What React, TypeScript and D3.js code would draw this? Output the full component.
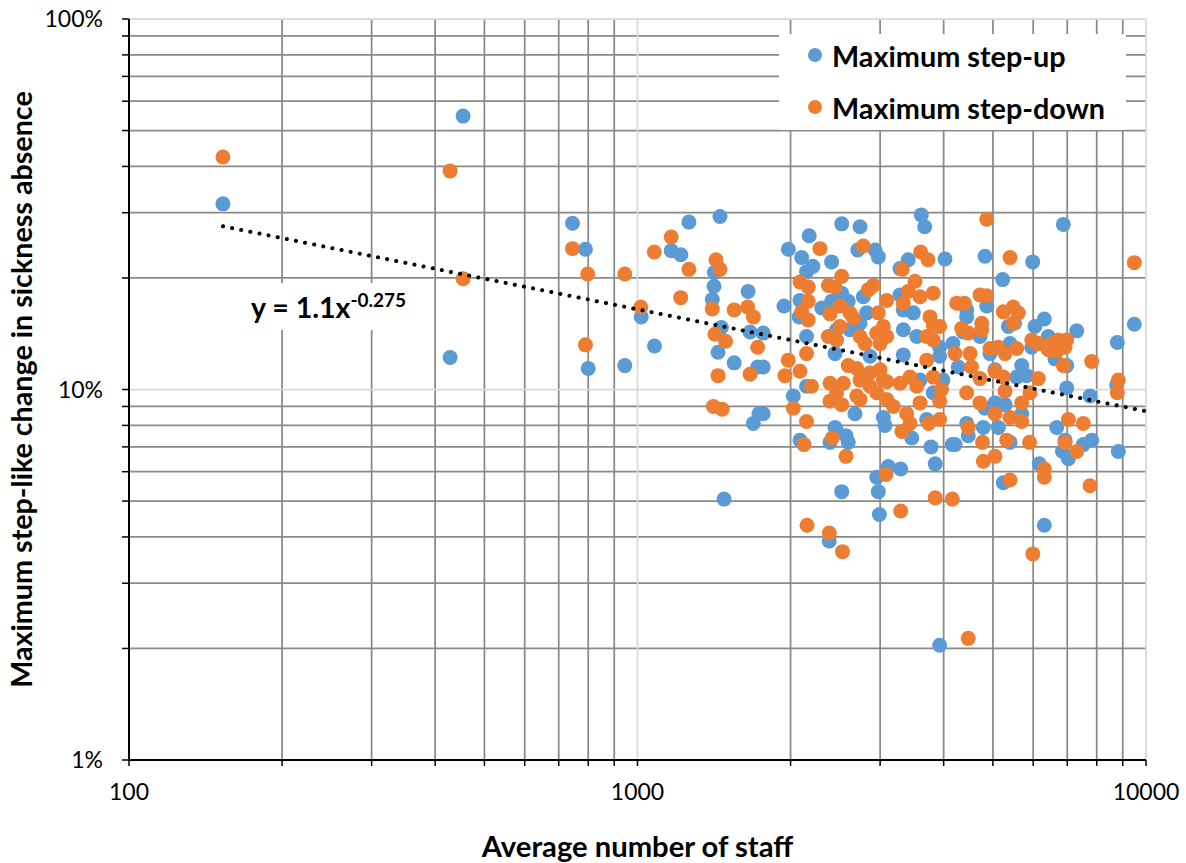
import { useEffect, useRef } from 'react';
import * as d3 from 'd3';

// [average number of staff, maximum step-like change in %]
const stepUp: [number, number][] = [
  [153, 31.7], [454, 54.7], [428, 12.2],
  [745, 28.1], [790, 23.9], [800, 11.4], [944, 11.6], [1017, 15.7], [1080, 13.1], [1165, 23.7], [1217, 23.1],
  [1262, 28.3], [1453, 29.3], [1416, 20.7], [1414, 19.0], [1403, 17.5], [1650, 18.4], [1462, 14.7], [1440, 12.6],
  [1549, 11.8], [1665, 14.3], [1723, 11.5], [1690, 8.1], [1733, 8.6], [1480, 5.06],
  [2176, 26.0], [1980, 23.9], [2103, 22.7], [2213, 21.5], [2150, 20.8], [2408, 22.1], [2521, 28.0], [2739, 27.5],
  [2711, 23.8], [2932, 23.8], [2976, 22.8], [3615, 29.6], [3671, 27.5], [3407, 22.4], [3283, 21.2], [4024, 22.5],
  [1941, 16.8], [2087, 17.4], [2080, 15.7], [2303, 16.6], [2408, 17.3], [2521, 18.2], [2597, 17.3], [2780, 17.8],
  [2823, 16.1], [2739, 15.1], [2616, 14.5], [2463, 14.5], [2150, 13.9], [3283, 18.0], [3332, 16.4], [3487, 16.1],
  [3332, 14.5], [3541, 13.9], [3928, 13.0], [3928, 12.3], [3332, 12.4], [1767, 14.2], [1767, 11.5], [2446, 12.5],
  [2150, 10.2], [2025, 9.6], [1767, 8.6], [2677, 8.6], [3044, 8.4], [2446, 7.9], [3704, 8.3], [3987, 10.6],
  [3816, 9.8], [3594, 10.6], [4171, 13.3], [2866, 12.3],
  [6877, 27.9], [4824, 22.9], [5986, 22.1], [5226, 19.8], [4861, 16.8], [4439, 16.4], [4439, 15.7], [5361, 14.8],
  [5515, 15.1], [6048, 14.8], [6309, 15.5], [7307, 14.4], [6424, 13.9], [4716, 13.9], [4372, 14.3], [4934, 12.5],
  [5402, 13.3], [5961, 13.0], [6623, 12.1], [6983, 11.6], [4274, 11.5], [5696, 11.6], [5568, 10.8], [5825, 10.9],
  [5047, 11.3], [6983, 10.1], [7760, 9.6], [8782, 13.4], [9484, 15.0], [8757, 10.3], [5047, 9.2], [4824, 8.9],
  [5281, 9.1], [5696, 8.6], [4439, 8.1], [4787, 7.9], [5124, 7.9], [6674, 7.9],
  [2457, 7.8], [2571, 7.5], [2597, 7.2], [2391, 7.2], [2087, 7.3], [3067, 8.0], [3462, 7.4], [3778, 7.0],
  [3850, 6.3], [4160, 7.1], [3113, 6.2], [3293, 6.1], [2954, 5.8], [2976, 5.3], [2521, 5.3], [2990, 4.6],
  [2383, 3.9], [3928, 2.04],
  [4211, 7.1], [4471, 7.5], [5402, 7.2], [6930, 7.3], [6850, 6.8], [7036, 6.5], [7529, 7.1], [7820, 7.3],
  [8822, 6.8], [6167, 6.3], [5241, 5.6], [6309, 4.3],
];

const stepDown: [number, number][] = [
  [153, 42.4], [428, 38.9], [454, 19.9],
  [745, 24.0], [798, 20.5], [944, 20.5], [790, 13.2], [1015, 16.7], [1079, 23.5], [1165, 25.8], [1262, 21.1],
  [1216, 17.7], [1427, 22.4], [1453, 21.1], [1403, 16.5], [1549, 16.4], [1647, 16.7], [1690, 15.7], [1420, 14.1],
  [1490, 13.5], [1440, 10.9], [1665, 11.0], [1723, 13.0], [1410, 9.0], [1467, 8.85],
  [2285, 24.0], [2780, 24.4], [3605, 23.5], [3726, 22.4], [3316, 21.1], [2521, 20.2], [2087, 19.5], [2167, 18.9],
  [2373, 19.1], [2446, 18.9], [2910, 19.1], [2845, 18.6], [3513, 19.6], [3407, 18.4], [3594, 17.8], [3816, 18.2],
  [3091, 17.4], [3332, 17.1], [2167, 17.3], [2103, 16.2], [2167, 15.4], [2502, 16.8], [2391, 16.0], [2616, 16.1],
  [2659, 15.6], [2502, 14.8], [2976, 16.1], [3044, 14.8], [2954, 14.2], [3091, 13.9], [3760, 15.7], [3816, 14.9],
  [3928, 14.8], [3704, 13.9], [3816, 13.6], [4243, 17.1], [2373, 13.9], [2463, 13.6], [2739, 13.9], [2801, 13.3],
  [2999, 13.3], [2150, 12.5], [1979, 12.0], [2087, 11.2], [1950, 10.9], [2597, 11.6], [2699, 11.4], [2866, 11.1],
  [2999, 11.3], [3044, 10.6], [2739, 10.6], [2866, 10.2], [2954, 9.8], [3091, 9.4], [3185, 9.0], [3091, 10.5],
  [3283, 10.4], [3434, 10.8], [3541, 10.2], [3704, 12.0], [3816, 10.8], [3962, 10.0], [3928, 9.3], [2391, 10.4],
  [2540, 10.4], [2463, 9.8], [2391, 9.3], [2521, 9.1], [2699, 9.6], [2739, 9.4], [2199, 10.2], [2025, 8.9],
  [2150, 8.2], [3383, 8.6], [3434, 8.1], [3594, 9.2], [3928, 8.3], [3738, 8.1], [4211, 12.5],
  [4861, 28.8], [5402, 22.7], [9484, 22.0], [4392, 17.1], [4716, 18.0], [4860, 17.9], [5241, 16.2], [5482, 16.7],
  [5608, 16.1], [5482, 15.1], [4340, 14.6], [4471, 14.2], [4752, 15.1], [4752, 14.5], [5961, 13.6], [6140, 13.3],
  [6536, 13.3], [6723, 13.6], [6983, 13.6], [6930, 13.0], [6424, 12.8], [6674, 12.7], [4934, 12.9], [5124, 13.0],
  [5281, 12.5], [5568, 12.9], [4507, 12.5], [6877, 11.6], [7820, 11.9], [4538, 11.5], [5047, 11.2], [5241, 10.8],
  [4716, 10.7], [5281, 9.9], [6140, 10.7], [5913, 9.8], [8822, 10.6], [8782, 9.8], [4439, 9.8], [4716, 9.2],
  [5696, 9.2], [5047, 8.6], [5402, 8.4], [5696, 8.2], [7036, 8.3], [7529, 8.1], [4471, 7.9],
  [2125, 7.1], [2415, 7.4], [2571, 6.6], [3081, 5.9], [3310, 7.7], [3850, 5.1], [4160, 5.06], [3293, 4.7],
  [2155, 4.3], [2383, 4.1], [2530, 3.65],
  [4770, 7.2], [5321, 7.3], [5902, 7.2], [4787, 6.4], [5047, 6.6], [6930, 7.2], [7307, 6.8], [6309, 6.1],
  [6309, 5.8], [5402, 5.7], [7760, 5.5], [5990, 3.6], [4471, 2.13],
];

const xMajor = [100, 1000, 10000];
const xMinor = [200, 300, 400, 500, 600, 700, 800, 900, 2000, 3000, 4000, 5000, 6000, 7000, 8000, 9000];
const yMajor = [1, 10, 100];
const yMinor = [2, 3, 4, 5, 6, 7, 8, 9, 20, 30, 40, 50, 60, 70, 80, 90];

// trendline shown in the chart: y = 1.1 x^-0.275 (as fraction)
const trendA = 1.1;
const trendB = -0.275;
const trendRange = [153, 10000];

const seriesNames = ['Maximum step-up', 'Maximum step-down'];
const seriesColors = ['#5B9BD5', '#ED7D31'];

const W = 1186;
const H = 863;
const FONT = 'Lato, "Open Sans", sans-serif';

const App = () => {
  const svgRef = useRef<SVGSVGElement>(null);

  useEffect(() => {
    const svg = d3.select(svgRef.current);
    svg.selectAll('*').remove();

    const left = 129, right = 1146, top = 19, bottom = 760;
    const x = d3.scaleLog().domain([100, 10000]).range([left, right]);
    const y = d3.scaleLog().domain([1, 100]).range([bottom, top]);

    const grid = svg.append('g');
    grid.selectAll('.vmin').data(xMinor).enter().append('line')
      .attr('x1', d => x(d)).attr('x2', d => x(d)).attr('y1', top).attr('y2', bottom)
      .attr('stroke', '#898989').attr('stroke-width', 1.75);
    grid.selectAll('.hmin').data(yMinor).enter().append('line')
      .attr('y1', d => y(d)).attr('y2', d => y(d)).attr('x1', left).attr('x2', right)
      .attr('stroke', '#898989').attr('stroke-width', 1.75);
    grid.selectAll('.vmaj').data(xMajor).enter().append('line')
      .attr('x1', d => x(d)).attr('x2', d => x(d)).attr('y1', top).attr('y2', bottom)
      .attr('stroke', '#d9d9d9').attr('stroke-width', 1.75);
    grid.selectAll('.hmaj').data(yMajor).enter().append('line')
      .attr('y1', d => y(d)).attr('y2', d => y(d)).attr('x1', left).attr('x2', right)
      .attr('stroke', '#d9d9d9').attr('stroke-width', 1.75);

    // axes
    const allX = xMajor.concat(xMinor);
    const allY = yMajor.concat(yMinor);
    svg.append('g').selectAll('line').data(allX).enter().append('line')
      .attr('x1', d => x(d)).attr('x2', d => x(d)).attr('y1', bottom).attr('y2', bottom + 6)
      .attr('stroke', '#000').attr('stroke-width', 1.5);
    svg.append('g').selectAll('line').data(allY).enter().append('line')
      .attr('x1', left - 7).attr('x2', left).attr('y1', d => y(d)).attr('y2', d => y(d))
      .attr('stroke', '#000').attr('stroke-width', 1.5);
    svg.append('line').attr('x1', left).attr('x2', left).attr('y1', top).attr('y2', bottom)
      .attr('stroke', '#000').attr('stroke-width', 2);
    svg.append('line').attr('x1', left).attr('x2', right).attr('y1', bottom).attr('y2', bottom)
      .attr('stroke', '#000').attr('stroke-width', 2);

    svg.append('g').selectAll('text').data(xMajor).enter().append('text')
      .attr('x', d => x(d)).attr('y', 800).attr('text-anchor', 'middle')
      .attr('font-family', FONT).attr('font-size', 23).text(d => String(d));
    svg.append('g').selectAll('text').data(yMajor).enter().append('text')
      .attr('x', 103).attr('y', d => y(d)).attr('dy', '0.35em').attr('text-anchor', 'end')
      .attr('font-family', FONT).attr('font-size', 23).text(d => d + '%');

    // points
    [stepUp, stepDown].forEach((series, i) => {
      svg.append('g').selectAll('circle').data(series).enter().append('circle')
        .attr('cx', d => x(d[0])).attr('cy', d => y(d[1])).attr('r', 7.5)
        .attr('fill', seriesColors[i]);
    });

    // trendline
    const trendPts = d3.range(0, 101).map(k => {
      const v = trendRange[0] * Math.pow(trendRange[1] / trendRange[0], k / 100);
      return [v, trendA * Math.pow(v, trendB) * 100] as [number, number];
    });
    svg.append('path')
      .attr('d', d3.line<[number, number]>().x(d => x(d[0])).y(d => y(d[1]))(trendPts))
      .attr('fill', 'none').attr('stroke', '#000').attr('stroke-width', 4)
      .attr('stroke-linecap', 'round').attr('stroke-dasharray', '0.1 9.2');

    // trendline label
    svg.append('rect').attr('x', 243).attr('y', 283).attr('width', 170).attr('height', 47).attr('fill', '#fff');
    const eq = svg.append('text').attr('x', 251).attr('y', 318)
      .attr('font-family', FONT).attr('font-weight', 'bold').attr('font-size', 28.5);
    eq.append('tspan').text('y = 1.1x');
    eq.append('tspan').attr('font-size', 19).attr('dy', -11).text('-0.275');

    // legend
    svg.append('rect').attr('x', 779).attr('y', 34).attr('width', 347).attr('height', 96).attr('fill', '#fff');
    seriesNames.forEach((name, i) => {
      svg.append('circle').attr('cx', 815).attr('cy', 55 + i * 52).attr('r', 7).attr('fill', seriesColors[i]);
      svg.append('text').attr('x', 832).attr('y', 67 + i * 52)
        .attr('font-family', FONT).attr('font-weight', 'bold').attr('font-size', 28.8).text(name);
    });

    // axis titles
    svg.append('text').attr('x', 637.5).attr('y', 857).attr('text-anchor', 'middle')
      .attr('font-family', FONT).attr('font-weight', 'bold').attr('font-size', 29.2)
      .text('Average number of staff');
    svg.append('text').attr('transform', 'translate(32,389.5) rotate(-90)').attr('text-anchor', 'middle')
      .attr('font-family', FONT).attr('font-weight', 'bold').attr('font-size', 28.7)
      .text('Maximum step-like change in sickness absence');
  }, []);

  return (
    <svg ref={svgRef} width={W} height={H}
      style={{ position: 'absolute', left: 0, top: 0, display: 'block', background: '#fff' }} />
  );
};

export default App;
